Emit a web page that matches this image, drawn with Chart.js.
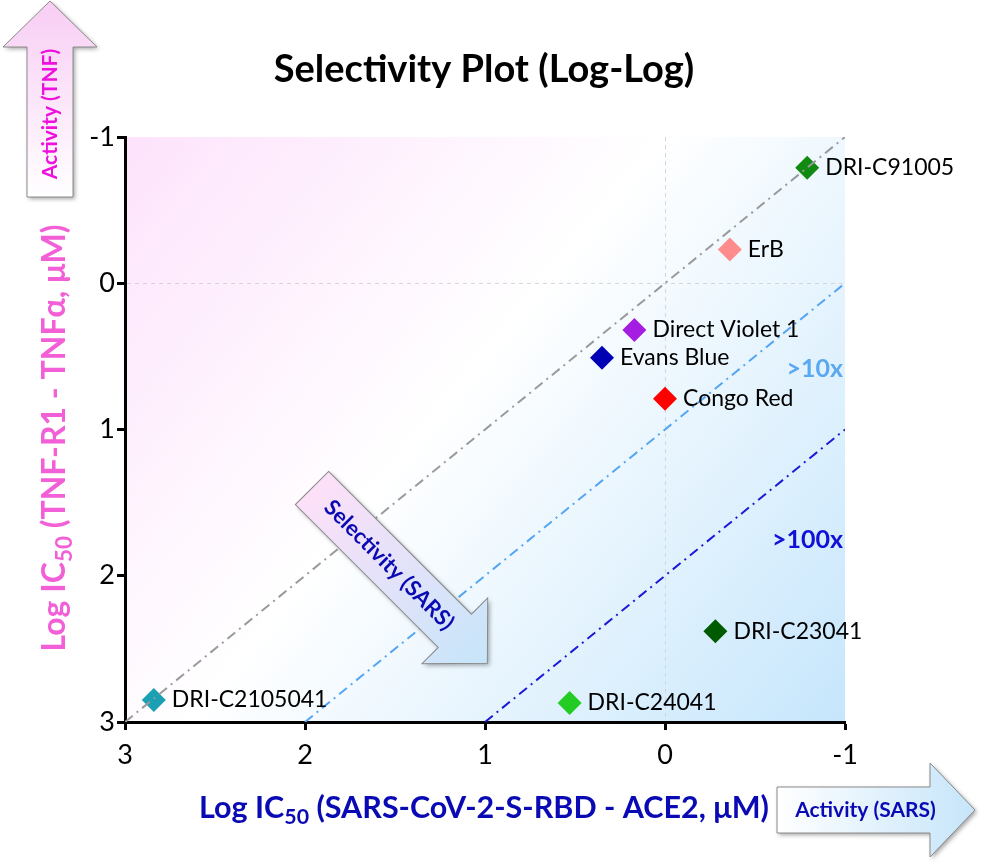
<!DOCTYPE html>
<html>
<head>
<meta charset="utf-8">
<script src="https://cdn.jsdelivr.net/npm/chart.js@4/dist/chart.umd.min.js"></script>
<style>
  html, body { margin: 0; padding: 0; background: #fff; }
  #wrap { width: 984px; height: 865px; }
</style>
</head>
<body>
<div id="wrap"><canvas id="plot"></canvas></div>
<script>
"use strict";

// compounds and their log IC50 values (uM)
var compounds = ['DRI-C91005', 'ErB', 'Direct Violet 1', 'Evans Blue', 'Congo Red',
                 'DRI-C23041', 'DRI-C24041', 'DRI-C2105041'];
var logSars = [-0.79, -0.36, 0.17, 0.35, 0.00, -0.28, 0.53, 2.84];
var logTnf  = [-0.79, -0.23, 0.32, 0.51, 0.79, 2.38, 2.87, 2.85];
var pointColors = ['#118a11', '#ff8c8c', '#a41de0', '#0000b4', '#ff0000',
                   '#005a00', '#22cc22', '#1a9fb3'];

var tickValues = [3, 2, 1, 0, -1];

// selectivity reference lines (x = log SARS, y = log TNF)
var equalX = [3, -1],   equalY = [3, -1];
var tenX = [2, -1],     tenY = [3, 0];
var hundredX = [1, -1], hundredY = [3, 1];

var FONT = 'Lato, "Open Sans", sans-serif';

function pairs(xs, ys) {
    return xs.map(function (x, i) { return {x: x, y: ys[i]}; });
}

function drawPieces(ctx, pieces, cx, cy, size, color) {
    // text with a subscript part, centred on cx
    var total = 0;
    pieces.forEach(function (p) {
        ctx.font = 'bold ' + (p.sub ? size * 0.7 : size) + 'px ' + FONT;
        p.w = ctx.measureText(p.t).width;
        total += p.w;
    });
    var x = cx - total / 2;
    ctx.fillStyle = color;
    ctx.textAlign = 'left';
    ctx.textBaseline = 'middle';
    pieces.forEach(function (p) {
        ctx.font = 'bold ' + (p.sub ? size * 0.7 : size) + 'px ' + FONT;
        ctx.fillText(p.t, x, p.sub ? cy + size * 0.3 : cy);
        x += p.w;
    });
}

function drawArrow(ctx, x, y, angle, len, shaftW, headW, headL, c0, c1, label, labelColor) {
    ctx.save();
    ctx.translate(x, y);
    ctx.rotate(angle);
    var g = ctx.createLinearGradient(0, 0, len, 0);
    g.addColorStop(0, c0);
    g.addColorStop(1, c1);
    ctx.beginPath();
    ctx.moveTo(0, -shaftW / 2);
    ctx.lineTo(len - headL, -shaftW / 2);
    ctx.lineTo(len - headL, -headW / 2);
    ctx.lineTo(len, 0);
    ctx.lineTo(len - headL, headW / 2);
    ctx.lineTo(len - headL, shaftW / 2);
    ctx.lineTo(0, shaftW / 2);
    ctx.closePath();
    ctx.shadowColor = 'rgba(0,0,0,0.35)';
    ctx.shadowBlur = 4;
    ctx.shadowOffsetX = 2;
    ctx.shadowOffsetY = 2;
    ctx.fillStyle = g;
    ctx.fill();
    ctx.shadowColor = 'rgba(0,0,0,0)';
    ctx.shadowBlur = 0;
    ctx.shadowOffsetX = 0;
    ctx.shadowOffsetY = 0;
    ctx.strokeStyle = '#8a8a8a';
    ctx.lineWidth = 1;
    ctx.stroke();
    ctx.translate((len - headL) / 2 + label.shift, 0);
    ctx.font = 'bold ' + label.size + 'px ' + FONT;
    ctx.fillStyle = labelColor;
    ctx.textAlign = 'center';
    ctx.textBaseline = 'middle';
    ctx.fillText(label.text, 0, 0);
    ctx.restore();
}

var decorations = {
    id: 'decorations',
    beforeDatasetsDraw: function (chart) {
        var ctx = chart.ctx, a = chart.chartArea;
        ctx.save();
        var g = ctx.createLinearGradient(a.left, a.top, a.right, a.bottom);
        g.addColorStop(0, '#fde3fc');
        g.addColorStop(0.45, '#ffffff');
        g.addColorStop(1, '#c6e6fc');
        ctx.globalCompositeOperation = 'destination-over';
        ctx.fillStyle = g;
        ctx.fillRect(a.left, a.top, a.right - a.left, a.bottom - a.top);
        ctx.restore();
    },
    afterDraw: function (chart) {
        var ctx = chart.ctx;
        ctx.save();

        // title
        ctx.font = 'bold 38px ' + FONT;
        ctx.fillStyle = '#000';
        ctx.textAlign = 'center';
        ctx.textBaseline = 'middle';
        ctx.fillText('Selectivity Plot (Log-Log)', 484, 70);

        // axis titles
        drawPieces(ctx, [{t: 'Log IC'}, {t: '50', sub: true}, {t: ' (SARS-CoV-2-S-RBD - ACE2, \u03bcM)'}],
                   484, 808, 30.5, '#0a0ab4');
        ctx.save();
        ctx.translate(55, 438);
        ctx.rotate(-Math.PI / 2);
        drawPieces(ctx, [{t: 'Log IC'}, {t: '50', sub: true}, {t: ' (TNF-R1 - TNF\u03b1, \u03bcM)'}],
                   0, 0, 32, '#f25fd6');
        ctx.restore();

        // point labels
        var meta = chart.getDatasetMeta(3);
        ctx.font = '23px ' + FONT;
        ctx.fillStyle = '#000';
        ctx.textAlign = 'left';
        ctx.textBaseline = 'middle';
        meta.data.forEach(function (pt, i) {
            ctx.fillText(compounds[i], pt.x + 18, pt.y);
        });

        // fold labels
        ctx.font = 'bold 25px ' + FONT;
        ctx.textAlign = 'right';
        ctx.fillStyle = '#5aa9f0';
        ctx.fillText('>10x', 843, 369);
        ctx.fillStyle = '#1010d8';
        ctx.fillText('>100x', 843, 540);

        // arrows
        drawArrow(ctx, 50, 197, -Math.PI / 2, 196, 46, 94, 46, '#ffffff', '#f8cdf4',
                  {text: 'Activity (TNF)', size: 21, shift: 8}, '#ee10dc');
        drawArrow(ctx, 777, 810, 0, 198, 46, 94, 45, '#ffffff', '#c6e5fa',
                  {text: 'Activity (SARS)', size: 21, shift: 12}, '#0a0ab4');
        drawArrow(ctx, 312, 488, Math.PI / 4, 248, 47, 93, 46, '#fde0f8', '#c6e5fa',
                  {text: 'Selectivity (SARS)', size: 22, shift: 8}, '#0a0ab4');

        ctx.restore();
    }
};

function zeroGrid(c) {
    return c.tick && c.tick.value === 0 ? '#d6d6d6' : 'rgba(0,0,0,0)';
}

var lineStyle = {
    showLine: true, pointRadius: 0, borderWidth: 2, fill: false, order: 0
};

new Chart(document.getElementById('plot'), {
    type: 'scatter',
    data: {
        datasets: [
            Object.assign({data: pairs(equalX, equalY), borderColor: '#9a9a9a',
                           borderDash: [10, 5, 2, 5]}, lineStyle),
            Object.assign({data: pairs(tenX, tenY), borderColor: '#55a6f2',
                           borderDash: [10, 5, 2, 5]}, lineStyle),
            Object.assign({data: pairs(hundredX, hundredY), borderColor: '#1a1ad6',
                           borderDash: [10, 5, 2, 5]}, lineStyle),
            {
                data: pairs(logSars, logTnf),
                pointStyle: 'rectRot',
                pointRadius: 12,
                pointBackgroundColor: pointColors,
                pointBorderColor: pointColors,
                borderWidth: 0,
                order: 1
            }
        ]
    },
    options: {
        responsive: true,
        maintainAspectRatio: false,
        animation: false,
        layout: {padding: {left: 0, top: 137, right: 139, bottom: 93}},
        plugins: {
            legend: {display: false},
            tooltip: {enabled: false},
            title: {display: false}
        },
        scales: {
            x: {
                type: 'linear',
                min: -1, max: 3,
                reverse: true,
                afterFit: function (s) { s.height = 50; },
                afterBuildTicks: function (s) {
                    s.ticks = tickValues.map(function (v) { return {value: v}; });
                },
                ticks: {color: '#000', font: {size: 27, family: FONT}, padding: 9},
                grid: {color: zeroGrid, lineWidth: 1, tickColor: '#000', tickWidth: 3, tickLength: 8},
                border: {color: '#000', width: 3, dash: [4, 4]}
            },
            y: {
                type: 'linear',
                min: -1, max: 3,
                reverse: true,
                afterFit: function (s) { s.width = 125; },
                afterBuildTicks: function (s) {
                    s.ticks = tickValues.map(function (v) { return {value: v}; });
                },
                ticks: {color: '#000', font: {size: 27, family: FONT}, padding: 2},
                grid: {color: zeroGrid, lineWidth: 1, tickColor: '#000', tickWidth: 3, tickLength: 8},
                border: {color: '#000', width: 3, dash: [4, 4]}
            }
        }
    },
    plugins: [decorations]
});
</script>
</body>
</html>
